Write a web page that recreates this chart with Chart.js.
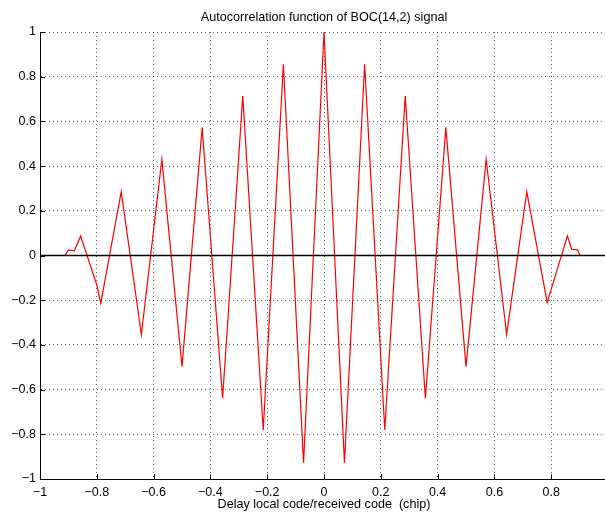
<!DOCTYPE html>
<html>
<head>
<meta charset="utf-8">
<script src="https://cdn.jsdelivr.net/npm/chart.js@4"></script>
<style>
    html, body { margin: 0; padding: 0; overflow: hidden; background: #fff; }
    #wrap { width: 640px; height: 512px; }
</style>
</head>
<body>
<div id="wrap"><canvas id="acfChart" width="640" height="512"></canvas></div>
<script>
// Values (delay in chips, normalised correlation)
const delay = [-1.0, -0.912, -0.900, -0.879, -0.857, -0.800, -0.786, -0.714, -0.643, -0.571,
    -0.500, -0.429, -0.357, -0.286, -0.214, -0.143, -0.072, 0.0, 0.072, 0.143,
    0.214, 0.286, 0.357, 0.429, 0.500, 0.571, 0.643, 0.714, 0.786, 0.806,
    0.857, 0.872, 0.893, 0.901, 1.0];
const acf = [0, 0, 0.025, 0.021, 0.087, -0.132, -0.213, 0.285, -0.354, 0.430,
    -0.497, 0.572, -0.639, 0.714, -0.781, 0.856, -0.927, 1.0, -0.927, 0.855,
    -0.781, 0.714, -0.639, 0.572, -0.497, 0.430, -0.353, 0.285, -0.211, -0.126,
    0.087, 0.028, 0.025, 0, 0];
const zeroLineX = [-1, 1];
const zeroLineY = [0, 0];

const titleText = 'Autocorrelation function of BOC(14,2) signal';
const xLabel = 'Delay local code/received code  (chip)';

const FONT = 'Helvetica, "Liberation Sans", Arial, sans-serif';

function fmtTick(v) {
    const r = Math.round(v * 10) / 10;
    return String(r).replace('-', '\u2212');
}

// MATLAB style ticks pointing into the axes
const inwardTicks = {
    id: 'inwardTicks',
    afterDraw(chart) {
        const ctx = chart.ctx;
        const xs = chart.scales.x;
        const ys = chart.scales.y;
        const area = chart.chartArea;
        ctx.save();
        ctx.strokeStyle = '#000';
        ctx.lineWidth = 1;
        ctx.beginPath();
        xs.ticks.forEach(t => {
            const px = Math.round(xs.getPixelForValue(t.value)) + 0.5;
            ctx.moveTo(px, area.bottom);
            ctx.lineTo(px, area.bottom - 5);
        });
        ys.ticks.forEach(t => {
            const py = Math.round(ys.getPixelForValue(t.value)) + 0.5;
            ctx.moveTo(area.left, py);
            ctx.lineTo(area.left + 5, py);
        });
        ctx.stroke();
        ctx.restore();
    }
};

const ctx = document.getElementById('acfChart');
const acfChart = new Chart(ctx.getContext('2d'), {
    type: 'line',
    data: {
        datasets: [{
            label: 'zero',
            data: zeroLineX.map((x, i) => ({ x: x, y: zeroLineY[i] })),
            borderColor: '#000',
            borderWidth: 1.6,
            pointRadius: 0,
            order: 0
        }, {
            label: 'ACF',
            data: delay.map((x, i) => ({ x: x, y: acf[i] })),
            borderColor: '#ff0000',
            borderWidth: 1.2,
            pointRadius: 0,
            tension: 0,
            clip: false,
            order: 1
        }]
    },
    plugins: [inwardTicks],
    options: {
        responsive: false,
        animation: false,
        devicePixelRatio: 1,
        layout: {
            padding: { left: 0, right: 32, top: 0, bottom: 0 }
        },
        plugins: {
            legend: { display: false },
            tooltip: { enabled: false },
            title: { display: false }
        },
        scales: {
            // empty top axis only carries the title, so it centres over the plot area
            top: {
                type: 'linear',
                position: 'top',
                min: -1,
                max: 1,
                afterFit: s => { s.height = 32; },
                border: { display: false },
                grid: { display: false, drawTicks: false },
                ticks: { display: false },
                title: {
                    display: true,
                    text: titleText,
                    color: '#000',
                    font: { family: FONT, size: 12.6 },
                    padding: { top: 10, bottom: 0 }
                }
            },
            x: {
                type: 'linear',
                min: -1,
                max: 1,
                afterFit: s => { s.height = 33; },
                border: { display: true, color: '#000', width: 1, dash: [1, 3] },
                grid: {
                    drawTicks: false,
                    color: 'rgba(0,0,0,0.6)',
                    lineWidth: 1
                },
                ticks: {
                    stepSize: 0.2,
                    padding: 6,
                    maxRotation: 0,
                    color: '#000',
                    font: { family: FONT, size: 12.5 },
                    callback: v => (Math.abs(v - 1) < 1e-6 ? '' : fmtTick(v))
                },
                title: {
                    display: true,
                    text: xLabel,
                    color: '#000',
                    font: { family: FONT, size: 12.6 },
                    padding: { top: 0, bottom: 0 }
                }
            },
            y: {
                min: -1,
                max: 1,
                afterFit: s => { s.width = 40; },
                border: { display: true, color: '#000', width: 1, dash: [1, 3] },
                grid: {
                    drawTicks: false,
                    color: 'rgba(0,0,0,0.6)',
                    lineWidth: 1
                },
                ticks: {
                    stepSize: 0.2,
                    padding: 4,
                    color: '#000',
                    font: { family: FONT, size: 12.5 },
                    callback: v => fmtTick(v)
                }
            }
        }
    }
});
</script>
</body>
</html>
